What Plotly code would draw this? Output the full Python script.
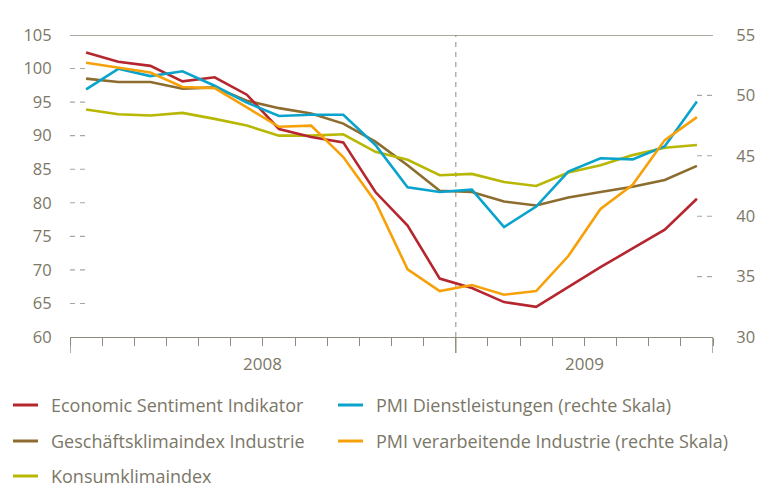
import plotly.graph_objects as go

# ---- data (monthly, Jan 2008 - Aug 2009) ----
months = ["Jan 2008", "Feb 2008", "Mär 2008", "Apr 2008", "Mai 2008", "Jun 2008",
          "Jul 2008", "Aug 2008", "Sep 2008", "Okt 2008", "Nov 2008", "Dez 2008",
          "Jan 2009", "Feb 2009", "Mär 2009", "Apr 2009", "Mai 2009", "Jun 2009",
          "Jul 2009", "Aug 2009"]
years = ["2008", "2009"]
year_start = [0, 12]
year_end = [12, 20]

esi = [102.4, 101.0, 100.4, 98.1, 98.7, 96.1, 91.0, 89.8, 89.0, 81.6,
       76.6, 68.7, 67.3, 65.2, 64.5, 67.5, 70.4, 73.2, 76.0, 80.6]
gki = [98.5, 98.0, 98.0, 97.0, 97.2, 95.2, 94.1, 93.3, 91.8, 89.1,
       85.6, 81.8, 81.6, 80.2, 79.6, 80.8, 81.6, 82.4, 83.4, 85.5]
kki = [93.9, 93.2, 93.0, 93.4, 92.5, 91.5, 90.0, 90.0, 90.2, 87.6,
       86.4, 84.1, 84.3, 83.1, 82.5, 84.5, 85.6, 87.1, 88.2, 88.6]
pmi_dl = [50.5, 52.2, 51.6, 52.0, 50.8, 49.4, 48.3, 48.4, 48.4, 45.9,
          42.4, 42.0, 42.2, 39.1, 40.8, 43.7, 44.8, 44.7, 45.8, 49.5]
pmi_vi = [52.7, 52.3, 51.9, 50.7, 50.6, 49.0, 47.4, 47.5, 44.9, 41.2,
          35.6, 33.8, 34.3, 33.5, 33.8, 36.7, 40.6, 42.6, 46.3, 48.2]

names = ["Economic Sentiment Indikator", "PMI Dienstleistungen (rechte Skala)",
         "Geschäftsklimaindex Industrie", "PMI verarbeitende Industrie (rechte Skala)",
         "Konsumklimaindex"]
series = [esi, pmi_dl, gki, pmi_vi, kki]
axes = ["y", "y2", "y", "y2", "y"]
colors = ["#b5262f", "#0aa3cc", "#8c6d2f", "#f7a10a", "#b7b704"]

left_ticks = [60, 65, 70, 75, 80, 85, 90, 95, 100, 105]
right_ticks = [30, 35, 40, 45, 50, 55]

FONT = "Open Sans"
TXT = "#7b7767"
AX = "#8f8b7e"

x = [i + 0.5 for i in range(len(months))]

fig = go.Figure()
order = [1, 2, 3, 4, 0]  # draw red last (on top)
for k in order:
    fig.add_trace(go.Scatter(x=x, y=series[k], yaxis=axes[k], mode="lines", name=names[k],
                             line=dict(color=colors[k], width=2.6), showlegend=False,
                             text=months,
                             hovertemplate="%{text}: %{y}<extra>" + names[k] + "</extra>"))

shapes = []
# dashed stubs for left axis
for v in left_ticks[1:-1]:
    shapes.append(dict(type="line", xref="paper", yref="y", x0=0, x1=16 / 643, y0=v, y1=v,
                       line=dict(color="#aaa699", width=1.1, dash="5px,5px"), layer="below"))
for v in right_ticks[1:-1]:
    shapes.append(dict(type="line", xref="paper", yref="y2", x0=1 - 16 / 643, x1=1, y0=v, y1=v,
                       line=dict(color="#aaa699", width=1.1, dash="5px,5px"), layer="below"))
# top line
shapes.append(dict(type="line", xref="paper", yref="y", x0=0, x1=1, y0=105, y1=105,
                   line=dict(color=AX, width=1.4)))
# dashed line at year boundary
shapes.append(dict(type="line", xref="x", yref="y", x0=12, x1=12, y0=60, y1=105,
                   line=dict(color="#a29e92", width=1.2, dash="5px,5px"), layer="below"))
# long ticks at year boundaries
for xv in sorted(set(year_start + year_end)):
    shapes.append(dict(type="line", xref="x", yref="paper", x0=xv, x1=xv, y0=0, y1=-16 / 302,
                       line=dict(color=AX, width=1.4)))

annotations = []
for yl, a, b in zip(years, year_start, year_end):
    annotations.append(dict(x=(a + b) / 2, y=-27 / 302, xref="x", yref="paper", text=yl,
                            showarrow=False, xanchor="center", yanchor="middle",
                            font=dict(family=FONT, size=17, color=TXT)))

# custom legend (two columns)
leg_pos = [(13, 405), (338, 405), (13, 441), (338, 441), (13, 476)]
for name, col, (lx, ly) in zip(names, colors, leg_pos):
    yp = (337 - ly) / 302
    shapes.append(dict(type="line", xref="paper", yref="paper",
                       x0=(lx - 70) / 643, x1=(lx + 25 - 70) / 643, y0=yp, y1=yp,
                       line=dict(color=col, width=3)))
    annotations.append(dict(x=(lx + 36 - 70) / 643, y=yp, xref="paper", yref="paper",
                            text=name, showarrow=False, xanchor="left", yanchor="middle",
                            font=dict(family=FONT, size=18, color=TXT)))

fig.update_layout(
    width=770, height=487,
    margin=dict(l=70, r=57, t=35, b=150),
    paper_bgcolor="white", plot_bgcolor="white",
    font=dict(family=FONT, size=16, color=TXT),
    xaxis=dict(range=[0, 20], tickvals=list(range(0, 21)), showticklabels=False,
               ticks="outside", ticklen=8, tickwidth=1.3, tickcolor=AX,
               showline=True, linecolor=AX, linewidth=1.4, showgrid=False, zeroline=False),
    yaxis=dict(range=[60, 105], tickvals=left_ticks, showgrid=False, zeroline=False,
               ticks="outside", ticklen=14, tickcolor="rgba(0,0,0,0)",
               tickfont=dict(family=FONT, size=16.5, color=TXT)),
    yaxis2=dict(range=[30, 55], tickvals=right_ticks, overlaying="y", side="right",
                showgrid=False, zeroline=False, ticks="outside", ticklen=19,
                tickcolor="rgba(0,0,0,0)", tickfont=dict(family=FONT, size=16.5, color=TXT)),
    shapes=shapes, annotations=annotations, showlegend=False,
)

fig.write_html("out.html",
               config={"displayModeBar": False},
               post_script="document.body.style.margin='0px';"
                           "document.body.style.padding='0px';"
                           "document.body.style.overflow='hidden';")
